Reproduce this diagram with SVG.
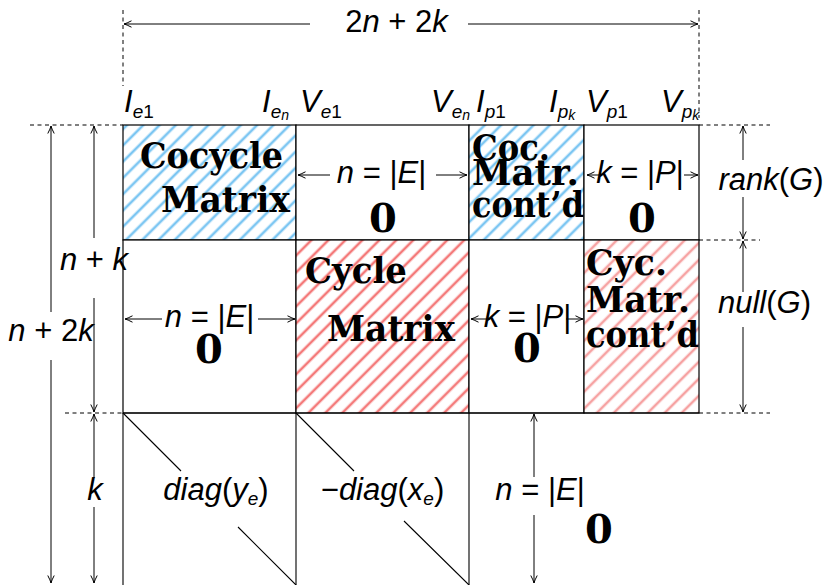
<svg xmlns="http://www.w3.org/2000/svg" width="826" height="585" viewBox="0 0 826 585">
<style>
.m{font-family:"Liberation Sans",Arial,sans-serif;font-size:31px;fill:#000}
.i{font-style:italic}
.s{font-size:19px}
.b{font-family:"DejaVu Serif","Liberation Serif",serif;font-weight:bold;font-size:35px;fill:#000}
.z{font-family:"DejaVu Serif","Liberation Serif",serif;font-weight:bold;font-size:40px;fill:#000;text-anchor:middle}
.mid{text-anchor:middle}
.cell{stroke:#000;stroke-width:1.2}
.ln{stroke:#000;stroke-width:1.1;fill:none}
.ar{stroke:#000;stroke-width:1;fill:none}
.dash{stroke:#000;stroke-width:1;stroke-dasharray:4 3.5;fill:none}
</style>
<defs>
<pattern id="hb" patternUnits="userSpaceOnUse" width="11.5" height="11.5" patternTransform="rotate(-45)"><rect width="11.5" height="11.5" fill="#fff"/><line x1="0" y1="5.75" x2="11.5" y2="5.75" stroke="#7cc6f2" stroke-width="2.6"/></pattern>
<pattern id="hr" patternUnits="userSpaceOnUse" width="12" height="12" patternTransform="rotate(-45)"><rect width="12" height="12" fill="#fff"/><line x1="0" y1="6" x2="12" y2="6" stroke="#f47a7a" stroke-width="2.6"/></pattern>
<pattern id="hl" patternUnits="userSpaceOnUse" width="12" height="12" patternTransform="rotate(-45)"><rect width="12" height="12" fill="#fff"/><line x1="0" y1="6" x2="12" y2="6" stroke="#f6a2a2" stroke-width="2.6"/></pattern>
<marker id="ah" viewBox="-9 -5 10 10" refX="0" refY="0" markerWidth="10" markerHeight="10" markerUnits="userSpaceOnUse" orient="auto-start-reverse"><path d="M-7.5,-3.2 Q-2.5,-0.6 0,0 Q-2.5,0.6 -7.5,3.2" stroke="#000" stroke-width="1" fill="none"/></marker>
</defs>
<rect width="826" height="585" fill="#fff"/>

<!-- column labels -->
<g id="col-labels" class="m">
<text x="124" y="112"><tspan class="i">I</tspan><tspan class="s" dy="6"><tspan class="i">e</tspan>1</tspan></text>
<text x="262" y="112"><tspan class="i">I</tspan><tspan class="s" dy="6"><tspan class="i">e</tspan><tspan class="i" font-size="14" dy="2">n</tspan></tspan></text>
<text x="300" y="112"><tspan class="i">V</tspan><tspan class="s" dy="6"><tspan class="i">e</tspan>1</tspan></text>
<text x="431" y="112"><tspan class="i">V</tspan><tspan class="s" dy="6"><tspan class="i">e</tspan><tspan class="i" font-size="14" dy="2">n</tspan></tspan></text>
<text x="476" y="112"><tspan class="i">I</tspan><tspan class="s" dy="6"><tspan class="i">p</tspan>1</tspan></text>
<text x="549" y="112"><tspan class="i">I</tspan><tspan class="s" dy="6"><tspan class="i">p</tspan><tspan class="i" font-size="14" dy="2">k</tspan></tspan></text>
<text x="586" y="112"><tspan class="i">V</tspan><tspan class="s" dy="6"><tspan class="i">p</tspan>1</tspan></text>
<text x="661" y="112"><tspan class="i">V</tspan><tspan class="s" dy="6"><tspan class="i">p</tspan><tspan class="i" font-size="14" dy="2">k</tspan></tspan></text>
</g>

<!-- top row -->
<g id="cocycle-matrix">
<rect class="cell" x="123" y="125" width="173" height="115" fill="url(#hb)"/>
<text class="b" x="140" y="168" textLength="143" lengthAdjust="spacingAndGlyphs">Cocycle</text>
<text class="b" x="161" y="212" textLength="129" lengthAdjust="spacingAndGlyphs">Matrix</text>
</g>
<g id="zero-top-E">
<rect class="cell" x="296" y="125" width="173" height="115" fill="#fff"/>
<text class="m mid" x="381.5" y="183"><tspan class="i">n</tspan> = |<tspan class="i">E</tspan>|</text>
<text class="z" x="383" y="232">0</text>
</g>
<g id="cocycle-contd">
<rect class="cell" x="469" y="125" width="115" height="115" fill="url(#hb)"/>
<text class="b" x="472" y="160" textLength="78" lengthAdjust="spacingAndGlyphs">Coc.</text>
<text class="b" x="472" y="185" textLength="107" lengthAdjust="spacingAndGlyphs">Matr.</text>
<text class="b" x="472" y="217" textLength="112" lengthAdjust="spacingAndGlyphs">cont’d</text>
</g>
<g id="zero-top-P">
<rect class="cell" x="584" y="125" width="115" height="115" fill="#fff"/>
<text class="m mid" x="640" y="183"><tspan class="i">k</tspan> = |<tspan class="i">P</tspan>|</text>
<text class="z" x="642" y="232">0</text>
</g>

<!-- middle row -->
<g id="zero-mid-E">
<rect class="cell" x="123" y="240" width="173" height="173" fill="#fff"/>
<text class="m mid" x="209.5" y="327"><tspan class="i">n</tspan> = |<tspan class="i">E</tspan>|</text>
<text class="z" x="209" y="363">0</text>
</g>
<g id="cycle-matrix">
<rect class="cell" x="296" y="240" width="173" height="173" fill="url(#hr)"/>
<text class="b" x="305" y="283" textLength="102" lengthAdjust="spacingAndGlyphs">Cycle</text>
<text class="b" x="327" y="341" textLength="128" lengthAdjust="spacingAndGlyphs">Matrix</text>
</g>
<g id="zero-mid-P">
<rect class="cell" x="469" y="240" width="115" height="173" fill="#fff"/>
<text class="m mid" x="527.5" y="327"><tspan class="i">k</tspan> = |<tspan class="i">P</tspan>|</text>
<text class="z" x="527" y="362">0</text>
</g>
<g id="cycle-contd">
<rect class="cell" x="584" y="240" width="115" height="173" fill="url(#hl)"/>
<text class="b" x="586" y="275" textLength="81" lengthAdjust="spacingAndGlyphs">Cyc.</text>
<text class="b" x="586" y="312" textLength="104" lengthAdjust="spacingAndGlyphs">Matr.</text>
<text class="b" x="586" y="347" textLength="113" lengthAdjust="spacingAndGlyphs">cont’d</text>
</g>

<!-- bottom row -->
<g id="diag-y">
<path class="ln" d="M123,413 V585 M123,413 H296"/>
<path class="ln" d="M123,413 L181,471 M238,527 L296,585"/>
<text class="m mid" x="216" y="500"><tspan class="i">diag</tspan>(<tspan class="i">y</tspan><tspan class="s i" dy="5">e</tspan><tspan dy="-5">)</tspan></text>
</g>
<g id="diag-x">
<path class="ln" d="M296,413 V585 M296,413 H469"/>
<path class="ln" d="M296,413 L354,471 M404,521 L469,585"/>
<text class="m mid" x="382.5" y="500">−<tspan class="i">diag</tspan>(<tspan class="i">x</tspan><tspan class="s i" dy="5">e</tspan><tspan dy="-5">)</tspan></text>
</g>
<g id="zero-bottom">
<path class="ln" d="M469,413 V585 M469,413 H699"/>
<text class="m mid" x="540" y="500"><tspan class="i">n</tspan> = |<tspan class="i">E</tspan>|</text>
<text class="z" x="599" y="543">0</text>
</g>

<!-- dimension labels -->
<g id="dim-labels" class="m">
<text class="mid" x="396.5" y="32">2<tspan class="i">n</tspan> + 2<tspan class="i">k</tspan></text>
<text class="mid" x="94" y="270"><tspan class="i">n</tspan> + <tspan class="i">k</tspan></text>
<text class="mid" x="51" y="341"><tspan class="i">n</tspan> + 2<tspan class="i">k</tspan></text>
<text class="mid" x="95" y="500"><tspan class="i">k</tspan></text>
<text class="mid" x="771" y="190"><tspan class="i">rank</tspan>(<tspan class="i">G</tspan>)</text>
<text class="mid" x="764.5" y="313"><tspan class="i">null</tspan>(<tspan class="i">G</tspan>)</text>
</g>

<!-- connectors -->
<g id="connectors">
<path class="dash" d="M123,10 V86 M699,10 V118 M30,125 H123 M699,125 H770 M699,240 H760 M65,413 H123 M699,413 H770"/>
<g class="ar" marker-end="url(#ah)">
<line x1="310" y1="24" x2="124" y2="24"/>
<line x1="468" y1="24" x2="698" y2="24"/>
<line x1="51" y1="312" x2="51" y2="126"/>
<line x1="51" y1="360" x2="51" y2="583"/>
<line x1="94" y1="238" x2="94" y2="126"/>
<line x1="94" y1="298" x2="94" y2="412"/>
<line x1="94" y1="478" x2="94" y2="414"/>
<line x1="94" y1="507" x2="94" y2="583"/>
<line x1="743" y1="160" x2="743" y2="126"/>
<line x1="743" y1="197" x2="743" y2="239"/>
<line x1="743" y1="292" x2="743" y2="241"/>
<line x1="743" y1="327" x2="743" y2="412"/>
<line x1="534" y1="477" x2="534" y2="414"/>
<line x1="534" y1="515" x2="534" y2="583"/>
<line x1="330" y1="175" x2="298" y2="175"/>
<line x1="436" y1="175" x2="467" y2="175"/>
<line x1="600" y1="175" x2="587" y2="175"/>
<line x1="684" y1="175" x2="698" y2="175"/>
<line x1="162" y1="319" x2="125" y2="319"/>
<line x1="258" y1="319" x2="295" y2="319"/>
<line x1="490" y1="319" x2="471" y2="319"/>
<line x1="566" y1="319" x2="583" y2="319"/>
</g>
</g>
</svg>
